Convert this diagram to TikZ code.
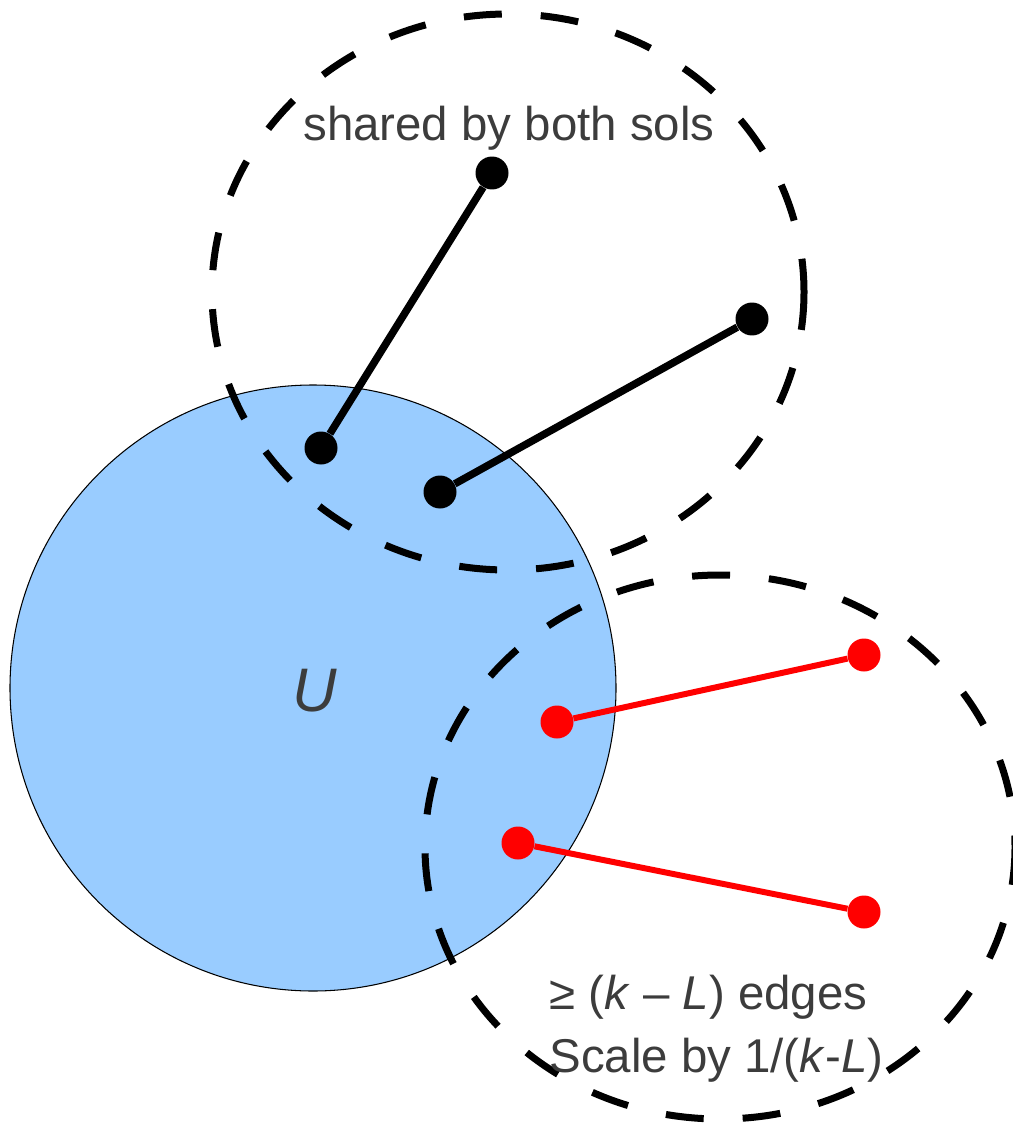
\documentclass[tikz,border=0pt]{standalone}
\usepackage{fontspec}
\setmainfont{Liberation Sans}
\usepackage{xcolor}
\usetikzlibrary{positioning, calc}

\definecolor{setblue}{HTML}{99CCFF}
\definecolor{labelgray}{HTML}{3C3C3C}

\begin{document}
\begin{tikzpicture}[
  x=0.02cm, y=-0.02cm,
  font=\fontsize{27}{36}\selectfont,
  region/.style={black, line width=0.14cm, dash pattern=on 0.76cm off 0.78cm},
  bdot/.style={circle, fill=black, inner sep=0pt, minimum size=0.66cm},
  rdot/.style={circle, fill=red, inner sep=0pt, minimum size=0.66cm},
  bedge/.style={black, line width=0.15cm},
  redge/.style={red, line width=0.12cm},
  lbl/.style={text=labelgray, inner sep=0pt},
]
\useasboundingbox (0,0) rectangle (1013,1132);

% ---- 1. the set U (blue disc) ----
\pgfmathsetmacro{\ux}{313}
\pgfmathsetmacro{\uy}{688}
\pgfmathsetmacro{\ur}{303}
\fill[setblue, draw=black, line width=0.6pt] (\ux,\uy) circle [radius=\ur];
\node[lbl, font=\fontsize{35}{40}\selectfont\itshape, anchor=base] (setU) at (315,711) {U};

% ---- 2. dashed regions ----
\draw[region] (508,292) ellipse [x radius=296, y radius=278];
\draw[region] (720,847) ellipse [x radius=295, y radius=272];

% ---- 3. shared edges (black) ----
\node[bdot] (s1) at (492,173) {};
\node[bdot] (s2) at (752,319) {};
\node[bdot] (s3) at (321,448) {};
\node[bdot] (s4) at (440,492) {};
\draw[bedge] (s3) -- (s1);
\draw[bedge] (s4) -- (s2);

% ---- 4. other edges (red) ----
\node[rdot] (r1) at (864,655) {};
\node[rdot] (r2) at (557,722) {};
\node[rdot] (r3) at (518,843) {};
\node[rdot] (r4) at (864,912) {};
\draw[redge] (r2) -- (r1);
\draw[redge] (r3) -- (r4);

% ---- 5. labels ----
\node[lbl, anchor=base] (shared) at (509,140) {shared by both sols};
\node[lbl, anchor=north west, align=left] (count) at (549,975)
  {≥ (\textit{k} – \textit{L}) edges\\Scale by 1/(\textit{k}-\textit{L})};

\end{tikzpicture}
\end{document}
